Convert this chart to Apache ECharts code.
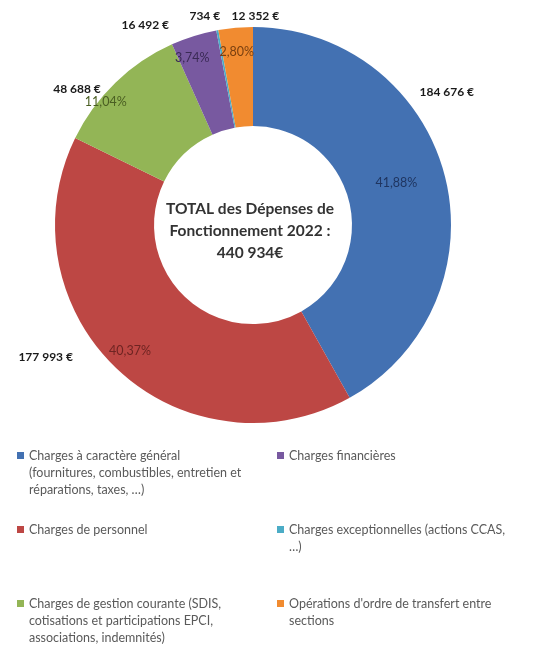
<!DOCTYPE html>
<html><head><meta charset="utf-8">
<script src="https://cdn.jsdelivr.net/npm/echarts@6/dist/echarts.min.js"></script>
<style>html,body{margin:0;padding:0;background:#fff}#c{width:538px;height:645px}</style>
</head><body><div id="c"></div>
<script>
const categories = [
  "Charges à caractère général (fournitures, combustibles, entretien et réparations, taxes, …)",
  "Charges de personnel",
  "Charges de gestion courante (SDIS, cotisations et participations EPCI, associations, indemnités)",
  "Charges financières",
  "Charges exceptionnelles (actions CCAS, …)",
  "Opérations d'ordre de transfert entre sections"
];
const values = [184676, 177993, 48688, 16492, 734, 12352];
const valueLabels = ["184 676 €", "177 993 €", "48 688 €", "16 492 €", "734 €", "12 352 €"];
const percentLabels = ["41,88%", "40,37%", "11,04%", "3,74%", "", "2,80%"];
const legendLines = [
  ["Charges à caractère général", "(fournitures, combustibles, entretien et", "réparations, taxes, …)"],
  ["Charges de personnel"],
  ["Charges de gestion courante (SDIS,", "cotisations et participations EPCI,", "associations, indemnités)"],
  ["Charges financières"],
  ["Charges exceptionnelles (actions CCAS,", "…)"],
  ["Opérations d'ordre de transfert entre", "sections"]
];
const centerTitle = "TOTAL des Dépenses de\nFonctionnement 2022 :\n440 934€";

// styling
const colors = ["#4371B2", "#BD4744", "#93B556", "#7859A0", "#4BACC6", "#F18B30"];
const percentColors = ["#1F3560", "#6E2422", "#4A5E22", "#3A2A55", "#1F5A6A", "#7A4010"];
const valueNudge = [[-22, -77], [-54, -30], [-21, 24], [-41, 13], [-8, 10], [22, 13]];
const percentNudge = [[-24, 2], [-4, 0], [-27, 1], [-9, -2], [0, 0], [-1, -1]];

const center = [253, 225];
const font = "Lato";

const pieData = categories.map((n, i) => ({ name: n, value: values[i], itemStyle: { color: colors[i] } }));
const ghostData = categories.map((n, i) => ({ name: n, value: values[i] }));

function legendText(name) {
  const lines = legendLines[categories.indexOf(name)];
  const out = ["", ""].concat(lines);
  while (out.length < 5) out.push("");
  return out.join("\n");
}

const legendCommon = {
  orient: 'vertical', top: 413, padding: 0, itemGap: -11, height: 320,
  itemWidth: 7, itemHeight: 7, icon: 'rect', selectedMode: false,
  formatter: legendText,
  textStyle: { fontFamily: font, fontSize: 12.5, color: '#5a5a5a', lineHeight: 17, padding: [0, 0, 0, 0] }
};

const chart = echarts.init(document.getElementById('c'), null, { renderer: 'canvas' });
chart.setOption({
  animation: false,
  backgroundColor: '#fff',
  legend: [
    Object.assign({}, legendCommon, { left: 17, data: [categories[0], categories[1], categories[2]] }),
    Object.assign({}, legendCommon, { left: 277, data: [categories[3], categories[4], categories[5]] })
  ],
  graphic: [{
    type: 'text', x: 250, y: 231, silent: true,
    style: { text: centerTitle, align: 'center', verticalAlign: 'middle', fontFamily: font, fontWeight: 'bold', fontSize: 15.5, lineHeight: 22, fill: '#333' }
  }],
  series: [
    {
      type: 'pie', center: center, radius: [99, 198], startAngle: 90, clockwise: true,
      silent: true, label: { show: false }, labelLine: { show: false },
      itemStyle: { borderWidth: 0 },
      data: pieData
    },
    {
      type: 'pie', center: center, radius: [145, 195], startAngle: 90, clockwise: true,
      silent: true, itemStyle: { color: 'rgba(0,0,0,0)' }, labelLine: { show: false },
      label: {
        show: true, position: 'inside', fontFamily: font, fontSize: 12.5,
        formatter: p => percentLabels[p.dataIndex]
      },
      labelLayout: p => ({ dx: percentNudge[p.dataIndex][0], dy: percentNudge[p.dataIndex][1] }),
      data: ghostData.map((d, i) => ({ name: d.name, value: d.value, label: { color: percentColors[i] } }))
    },
    {
      type: 'pie', center: center, radius: [200, 240], startAngle: 90, clockwise: true,
      silent: true, itemStyle: { color: 'rgba(0,0,0,0)' }, labelLine: { show: false },
      label: {
        show: true, position: 'inside', fontFamily: font, fontSize: 12, fontWeight: 'bold', color: '#1a1a1a',
        formatter: p => valueLabels[p.dataIndex]
      },
      labelLayout: p => ({ dx: valueNudge[p.dataIndex][0], dy: valueNudge[p.dataIndex][1] }),
      data: ghostData
    }
  ]
});
</script></body></html>
